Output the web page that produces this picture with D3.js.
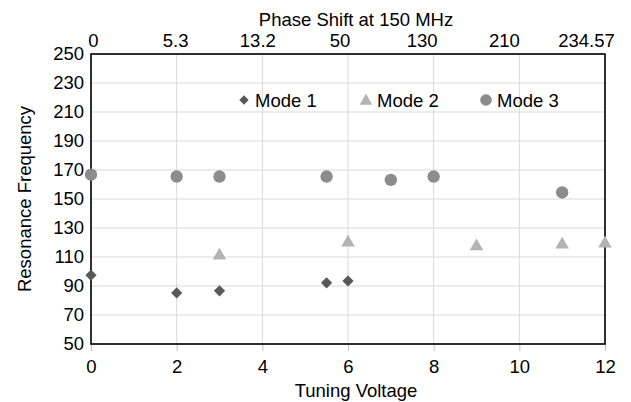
<!DOCTYPE html>
<html>
<head>
<meta charset="utf-8">
<script src="https://cdn.jsdelivr.net/npm/d3@7"></script>
<style>
  body { margin: 0; background: #fff; }
  text { font-family: "Liberation Sans", Arial, Helvetica, sans-serif; fill: #000; }
</style>
</head>
<body>
<div id="chart"></div>
<script>
// data
var mode1 = [[0, 97.5], [2, 85.2], [3, 86.7], [5.5, 92.2], [6, 93.5]];
var mode2 = [[3, 111], [6, 120], [9, 117.3], [11, 118.5], [12, 119.3]];
var mode3 = [[0, 166.8], [2, 165.5], [3, 165.5], [5.5, 165.5], [7, 163.2], [8, 165.5], [11, 154.5]];
var xTicks = [0, 2, 4, 6, 8, 10, 12];
var yTicks = [50, 70, 90, 110, 130, 150, 170, 190, 210, 230, 250];
var phaseLabels = ['0', '5.3', '13.2', '50', '130', '210', '234.57'];
var seriesNames = ['Mode 1', 'Mode 2', 'Mode 3'];

var width = 631, height = 402;
var margin = {top: 54, right: 26, bottom: 58, left: 91};
var fs = 18.5;

var svg = d3.select('#chart').append('svg')
    .attr('width', width)
    .attr('height', height);

var x = d3.scaleLinear().domain([0, 12]).range([margin.left, width - margin.right]);
var y = d3.scaleLinear().domain([50, 250]).range([height - margin.bottom, margin.top]);
// secondary top axis, labels evenly spread (not aligned to the grid)
var xTop = d3.scalePoint().domain(phaseLabels).range([93, 586]);

// gridlines
svg.append('g').selectAll('line.h')
    .data(yTicks).enter().append('line')
    .attr('x1', x(0)).attr('x2', x(12))
    .attr('y1', function (d) { return y(d); })
    .attr('y2', function (d) { return y(d); })
    .attr('stroke', '#d9d9d9').attr('stroke-width', 1);
svg.append('g').selectAll('line.v')
    .data(xTicks).enter().append('line')
    .attr('y1', y(50)).attr('y2', y(250))
    .attr('x1', function (d) { return x(d); })
    .attr('x2', function (d) { return x(d); })
    .attr('stroke', '#d9d9d9').attr('stroke-width', 1);

// bottom axis
var bottomAxis = svg.append('g')
    .attr('transform', 'translate(0,' + y(50) + ')')
    .call(d3.axisBottom(x).tickValues(xTicks).tickSize(7).tickPadding(9));
bottomAxis.select('.domain').remove();
bottomAxis.selectAll('line').attr('stroke', '#bfbfbf');
bottomAxis.selectAll('text').attr('font-size', fs).style('font-family', '"Liberation Sans", Arial, sans-serif');

// left axis
var leftAxis = svg.append('g')
    .attr('transform', 'translate(' + x(0) + ',0)')
    .call(d3.axisLeft(y).tickValues(yTicks).tickSize(0).tickPadding(7));
leftAxis.select('.domain').remove();
leftAxis.selectAll('text').attr('font-size', fs).style('font-family', '"Liberation Sans", Arial, sans-serif');

// top axis
var topAxis = svg.append('g')
    .attr('transform', 'translate(0,' + y(250) + ')')
    .call(d3.axisTop(xTop).tickSize(0).tickPadding(7));
topAxis.select('.domain').remove();
topAxis.selectAll('text').attr('font-size', fs).style('font-family', '"Liberation Sans", Arial, sans-serif');

// plot border
svg.append('rect')
    .attr('x', x(0)).attr('y', y(250))
    .attr('width', x(12) - x(0)).attr('height', y(50) - y(250))
    .attr('fill', 'none').attr('stroke', '#000').attr('stroke-width', 1.6);

// markers
var diamond = d3.symbol().type(d3.symbolDiamond2).size(80);
var triangle = d3.symbol().type(d3.symbolTriangle).size(80);

svg.append('g').selectAll('path')
    .data(mode1).enter().append('path')
    .attr('d', diamond)
    .attr('transform', function (d) { return 'translate(' + x(d[0]) + ',' + y(d[1]) + ')'; })
    .attr('fill', '#595959');

svg.append('g').selectAll('path')
    .data(mode2).enter().append('path')
    .attr('d', triangle)
    .attr('transform', function (d) { return 'translate(' + x(d[0]) + ',' + y(d[1]) + ')'; })
    .attr('fill', '#b3b3b3');

svg.append('g').selectAll('circle')
    .data(mode3).enter().append('circle')
    .attr('cx', function (d) { return x(d[0]); })
    .attr('cy', function (d) { return y(d[1]); })
    .attr('r', 6.2)
    .attr('fill', '#8c8c8c');

// legend
var legend = svg.append('g').attr('transform', 'translate(0,100)');
var legendX = [244, 366, 486];
legend.append('path').attr('d', d3.symbol().type(d3.symbolDiamond2).size(55))
    .attr('transform', 'translate(' + legendX[0] + ',0)').attr('fill', '#595959');
legend.append('path').attr('d', d3.symbol().type(d3.symbolTriangle).size(70))
    .attr('transform', 'translate(' + legendX[1] + ',1)').attr('fill', '#b3b3b3');
legend.append('circle').attr('cx', legendX[2]).attr('cy', 0).attr('r', 5.8).attr('fill', '#8c8c8c');
legend.selectAll('text.lg')
    .data(seriesNames).enter().append('text')
    .attr('x', function (d, i) { return legendX[i] + 11; })
    .attr('y', 6.5)
    .attr('font-size', fs)
    .text(function (d) { return d; });

// titles
svg.append('text')
    .attr('x', 356).attr('y', 26)
    .attr('text-anchor', 'middle').attr('font-size', fs)
    .text('Phase Shift at 150 MHz');
svg.append('text')
    .attr('x', 356).attr('y', 397)
    .attr('text-anchor', 'middle').attr('font-size', fs)
    .text('Tuning Voltage');
svg.append('text')
    .attr('transform', 'translate(31,' + ((y(50) + y(250)) / 2) + ') rotate(-90)')
    .attr('text-anchor', 'middle').attr('font-size', fs)
    .text('Resonance Frequency');
</script>
</body>
</html>
